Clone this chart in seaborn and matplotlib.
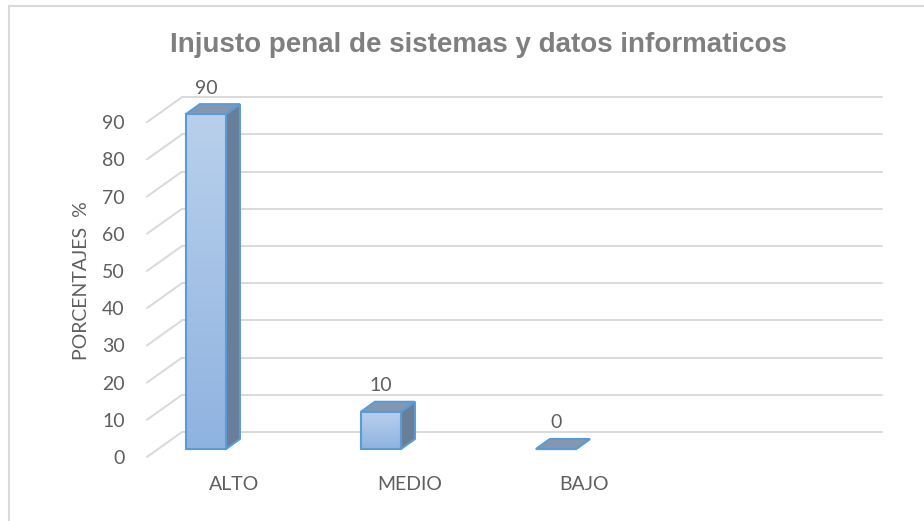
import numpy as np
import matplotlib
matplotlib.use('Agg')
import matplotlib.pyplot as plt
import seaborn as sns
from matplotlib.patches import Polygon
from matplotlib.lines import Line2D
from matplotlib.colors import LinearSegmentedColormap

# Datos
categorias = ['ALTO', 'MEDIO', 'BAJO']
porcentajes = [90, 10, 0]
ticks_y = [0, 10, 20, 30, 40, 50, 60, 70, 80, 90]

titulo = 'Injusto penal de sistemas y datos informaticos'
etiqueta_y = 'PORCENTAJES  %'

# geometria del efecto 3D (unidades de datos)
ancho = 0.229
prof_x, prof_y = 0.08, 2.7      # profundidad de cada barra
pared_x, pared_y = 0.2, 6.7     # profundidad del suelo
suelo_y = -2.15                 # borde frontal del suelo
desp_x = 0.163                  # etiquetas del eje x respecto a las barras
x_izq, x_der = -0.337, 3.863

gris_texto = '#5f5f5f'
gris_rejilla = '#d9d9d9'
azul_borde = '#5b9bd5'

sns.set_theme(style='white')
plt.rcParams['font.family'] = ['Lato', 'DejaVu Sans']

fig = plt.figure(figsize=(9.24, 5.21), dpi=100)
ax = fig.add_axes([0.159, 0.1228, 0.7955, 0.7045])

sns.barplot(x=categorias, y=porcentajes, width=ancho, color='#a5c3e6',
            edgecolor=azul_borde, linewidth=1.5, ax=ax, zorder=3)
barras = list(ax.patches)

# pared y rejilla
for t in ticks_y:
    yf = suelo_y + t
    yb = yf + pared_y
    ax.plot([x_izq, x_izq + pared_x], [yf, yb], color=gris_rejilla, lw=1.4, zorder=1, clip_on=False)
    ax.plot([x_izq + pared_x, x_der], [yb, yb], color=gris_rejilla, lw=1.4, zorder=1, clip_on=False)

# caras superior y lateral, degradado frontal
cmap = LinearSegmentedColormap.from_list('frente', ['#8fb3e0', '#b9d0ec'])
grad = np.linspace(0, 1, 256).reshape(-1, 1)
for p, v in zip(barras, porcentajes):
    x0 = p.get_x()
    x1 = x0 + p.get_width()
    h = p.get_height()
    lado = Polygon([(x1, 0), (x1, h), (x1 + prof_x, h + prof_y), (x1 + prof_x, prof_y)],
                   closed=True, fc='#687e99', ec=azul_borde, lw=1.5, zorder=2, clip_on=False)
    arriba = Polygon([(x0, h), (x1, h), (x1 + prof_x, h + prof_y), (x0 + prof_x, h + prof_y)],
                     closed=True, fc='#8497b0', ec=azul_borde, lw=1.5, zorder=2.2, clip_on=False)
    ax.add_patch(lado)
    ax.add_patch(arriba)
    if h > 0:
        p.set_facecolor('none')
        im = ax.imshow(grad, extent=[x0, x1, 0, h], origin='lower', cmap=cmap,
                       aspect='auto', zorder=2.5)
        im.set_clip_path(p)
    ax.text(x0 + p.get_width() / 2, v + 7, str(v), ha='center', va='center',
            fontsize=14, color=gris_texto)

ax.set_xlim(x_izq, x_der)
ax.set_ylim(suelo_y, 96.5)
ax.set_xticks([i + desp_x for i in range(len(categorias))], categorias)
ax.set_yticks([suelo_y + t for t in ticks_y], [str(t) for t in ticks_y])
ax.tick_params(axis='y', length=0, pad=16, labelsize=14, labelcolor=gris_texto)
ax.tick_params(axis='x', length=0, pad=14, labelsize=14, labelcolor=gris_texto)
ax.set_xlabel('')
ax.set_ylabel(etiqueta_y, fontsize=14, color=gris_texto)
ax.yaxis.set_label_coords(-0.078, 0.48)
for s in ax.spines.values():
    s.set_visible(False)
ax.patch.set_alpha(0)

fig.text(478 / 924, 1 - 45 / 521, titulo, ha='center', va='center', fontsize=20,
         fontweight='bold', color='#7f7f7f', family=['Liberation Sans', 'DejaVu Sans'])

# marco del grafico
fig.add_artist(Line2D([9 / 924, 9 / 924], [0, 1 - 6 / 521], transform=fig.transFigure,
                      color=gris_rejilla, lw=1.5))
fig.add_artist(Line2D([9 / 924, 1], [1 - 6 / 521, 1 - 6 / 521], transform=fig.transFigure,
                      color=gris_rejilla, lw=1.5))

fig.savefig('out.png', dpi=100)
